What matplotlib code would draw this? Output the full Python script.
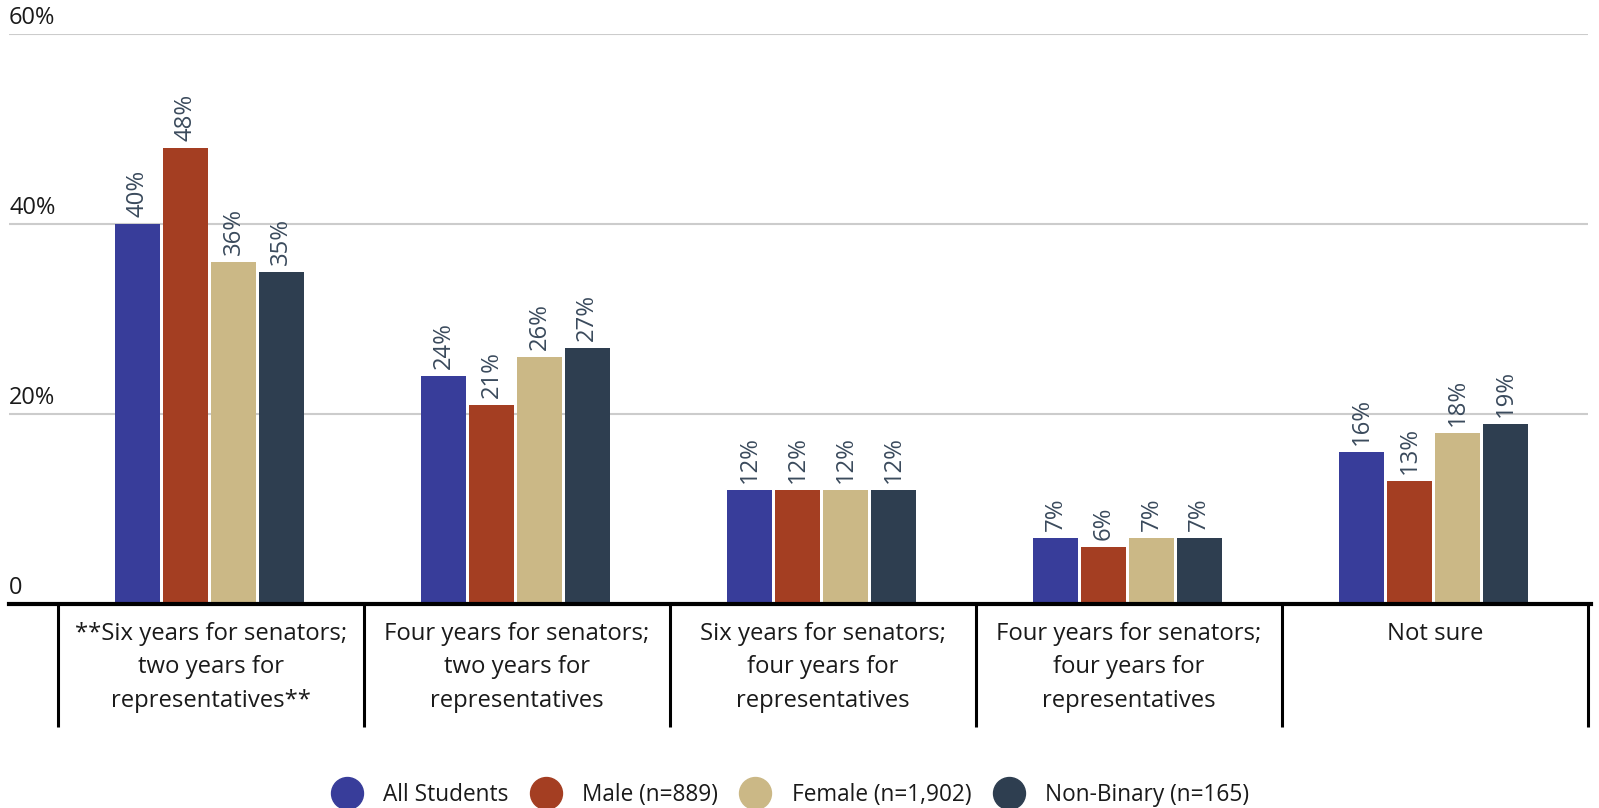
import matplotlib
matplotlib.use("Agg")
import matplotlib.pyplot as plt
from matplotlib.lines import Line2D
import numpy as np

plt.rcParams['font.family'] = ['Open Sans', 'DejaVu Sans']

categories = [
    "**Six years for senators;\ntwo years for\nrepresentatives**",
    "Four years for senators;\ntwo years for\nrepresentatives",
    "Six years for senators;\nfour years for\nrepresentatives",
    "Four years for senators;\nfour years for\nrepresentatives",
    "Not sure",
]
series_names = ["All Students", "Male (n=889)", "Female (n=1,902)", "Non-Binary (n=165)"]
all_students = [40, 24, 12, 7, 16]
male = [48, 21, 12, 6, 13]
female = [36, 26, 12, 7, 18]
non_binary = [35, 27, 12, 7, 19]
series_values = [all_students, male, female, non_binary]
colors = ["#383D9A", "#A43E22", "#CBB886", "#2E3E50"]
yticks = [0, 20, 40, 60]
ytick_labels = ["0", "20%", "40%", "60%"]

W, H = 1599, 808
fig = plt.figure(figsize=(W / 100, H / 100), dpi=100)
left_px, right_px, top_px, bottom_px = 9, 1588, 34, 604
ax = fig.add_axes([left_px / W, 1 - bottom_px / H, (right_px - left_px) / W, (bottom_px - top_px) / H])

n = len(categories)
x = np.arange(n)
slot = 47 / 300
bw = 44 / 300
for i, (vals, c) in enumerate(zip(series_values, colors)):
    xs = x + (i - 1.5) * slot - 0.005
    ax.bar(xs, vals, width=bw, color=c, zorder=3)
    for xi, v in zip(xs, vals):
        ax.annotate(f"{v}%", (xi, v), xytext=(0, 5), textcoords="offset points",
                    rotation=90, ha="center", va="bottom", fontsize=17.2,
                    color="#3A4A5C", zorder=4)

ax.set_xlim(-0.5 - 48 / 300, n - 0.5)
ax.set_ylim(0, 60)

for v in yticks[1:]:
    ax.axhline(v, color="#cccccc", lw=1.5, zorder=1)
ax.axhline(0, color="black", lw=3, zorder=5, xmax=1.002, clip_on=False)

for v, lab in zip(yticks, ytick_labels):
    ax.annotate(lab, (0, v), xycoords=ax.get_yaxis_transform(), xytext=(0, 2.8),
                textcoords="offset points", ha="left", va="bottom", fontsize=17,
                color="#1a1a1a")

ax.set_xticks([])
ax.set_yticks([])
for s in ax.spines.values():
    s.set_visible(False)

trans = ax.get_xaxis_transform()
ax_h = bottom_px - top_px
sep_bottom = -(727 - bottom_px) / ax_h
for b in np.arange(n + 1) - 0.5:
    ax.plot([b, b], [0, sep_bottom], transform=trans, color="black", lw=2.2,
            clip_on=False, solid_capstyle="butt")

for xi, lab in zip(x, categories):
    ax.text(xi, -17.5 / ax_h, lab, transform=trans, ha="center", va="top",
            fontsize=17.2, color="#1a1a1a", linespacing=1.55)

handles = [Line2D([], [], marker="o", linestyle="", markersize=23, markerfacecolor=c,
                  markeredgecolor=c) for c in colors]
fig.legend(handles, series_names, loc="center", bbox_to_anchor=(790 / W, 1 - 795 / H),
           ncol=4, frameon=False, fontsize=16.3, handletextpad=0.92, columnspacing=0.94,
           handlelength=1.4, labelcolor="#1a1a1a", borderpad=0, borderaxespad=0)

fig.savefig("out.png", dpi=100)
